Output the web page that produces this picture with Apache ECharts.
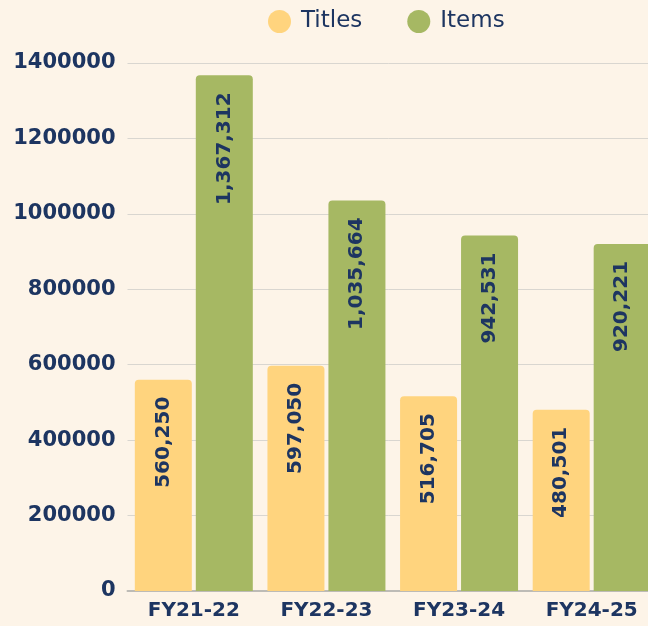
<!DOCTYPE html>
<html>
<head>
<meta charset="utf-8">
<script src="https://cdn.jsdelivr.net/npm/echarts@6/dist/echarts.min.js"></script>
<style>
  html, body { margin: 0; padding: 0; background: #fdf4e8; }
  #chart { width: 648px; height: 626px; }
</style>
</head>
<body>
<div id="chart"></div>
<script>
  var years = ['FY21-22', 'FY22-23', 'FY23-24', 'FY24-25'];
  var titles = [560250, 597050, 516705, 480501];
  var items = [1367312, 1035664, 942531, 920221];

  var navy = '#1d3561';
  var font = 'DejaVu Sans';

  var chart = echarts.init(document.getElementById('chart'));

  // label inside the bar, near the top, reading bottom to top
  var barLabel = {
    show: true,
    position: 'insideTop',
    distance: 17,
    rotate: 90,
    align: 'right',
    verticalAlign: 'middle',
    color: navy,
    fontFamily: font,
    fontSize: 20,
    fontWeight: 'bold',
    formatter: function (p) {
      return p.value.toLocaleString('en-US');
    }
  };

  var option = {
    animation: false,
    backgroundColor: '#fdf4e8',
    legend: {
      top: 5,
      left: 263,
      icon: 'circle',
      itemWidth: 23,
      itemHeight: 23,
      itemGap: 45,
      textStyle: { color: navy, fontFamily: font, fontSize: 23, padding: [0, 0, 0, 5] },
      data: ['Titles', 'Items']
    },
    // the last category runs past the right edge of the picture
    grid: {
      left: 127.5, width: 530.5, top: 63, bottom: 35,
      containLabel: false, outerBoundsMode: 'none'
    },
    xAxis: {
      type: 'category',
      data: years,
      axisLine: { lineStyle: { color: '#bdbbb6', width: 2 } },
      axisTick: { show: false },
      axisLabel: { color: navy, fontFamily: font, fontSize: 20, fontWeight: 'bold', margin: 10 }
    },
    yAxis: {
      type: 'value',
      min: 0,
      max: 1400000,
      interval: 200000,
      axisLine: { show: false },
      axisTick: { show: false },
      splitLine: { lineStyle: { color: '#d9d6d0', width: 1 } },
      axisLabel: {
        color: navy, fontFamily: font, fontSize: 21, fontWeight: 'bold', margin: 12,
        formatter: function (v) { return String(v); }
      }
    },
    series: [{
      name: 'Titles',
      type: 'bar',
      data: titles,
      barWidth: 57,
      barGap: '7%',
      itemStyle: { color: '#ffd47e', borderRadius: [4, 4, 0, 0] },
      label: barLabel
    }, {
      name: 'Items',
      type: 'bar',
      data: items,
      barWidth: 57,
      barGap: '7%',
      itemStyle: { color: '#a6b863', borderRadius: [4, 4, 0, 0] },
      label: barLabel
    }]
  };
  chart.setOption(option);
</script>
</body>
</html>
